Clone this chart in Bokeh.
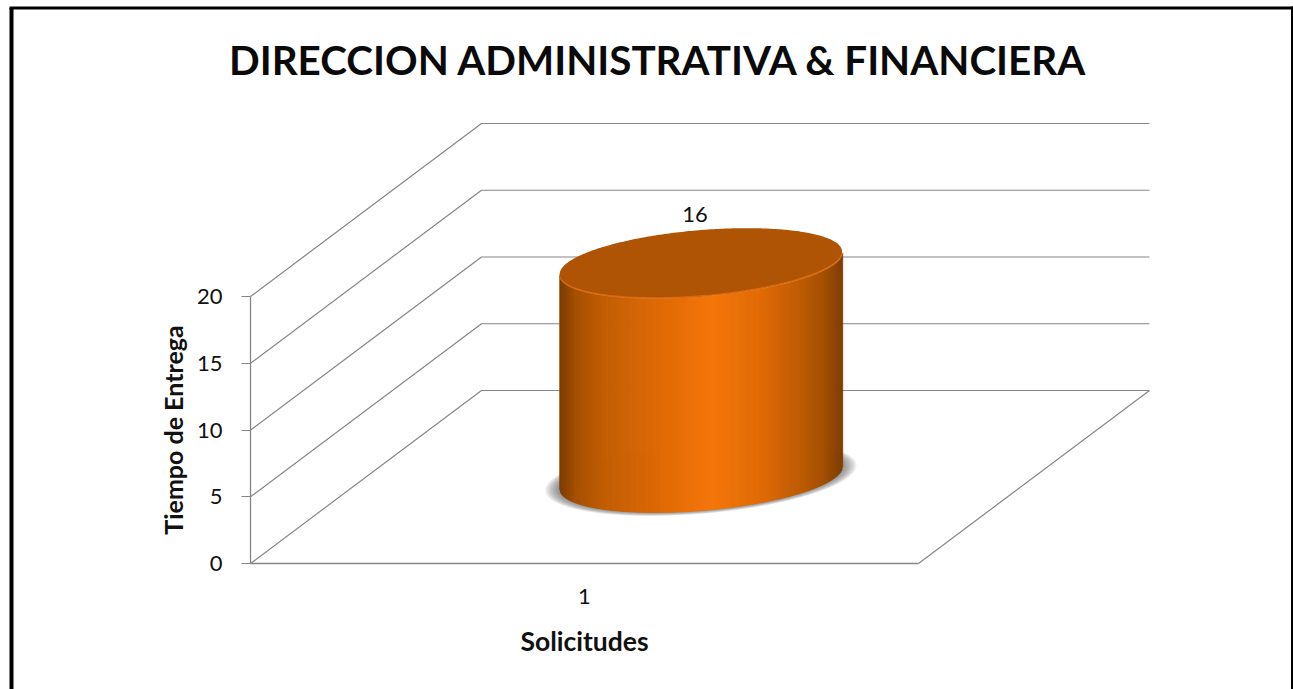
import numpy as np
from bokeh.plotting import figure
from bokeh.models import Label, FixedTicker
from bokeh.core.properties import value
from bokeh.embed import file_html
from bokeh.resources import INLINE

TITLE = "DIRECCION ADMINISTRATIVA & FINANCIERA"
categories = ["1"]
values = [16]
y_ticks = [0, 5, 10, 15, 20]
x_title = "Solicitudes"
y_title = "Tiempo de Entrega"

FONT = "Lato"
GREY = "#868686"
# screen calibration of the projected chart box
PX_X0, PX_UNIT_X = 250.0, 668.0
PX_Y0, PX_UNIT_Y = 563.0, 13.35
DEPTH_X = 231 / PX_UNIT_X
DEPTH_Y = 173 / PX_UNIT_Y
BAR_RADIUS = 0.2

W, H = 1293, 689
LEFT, TOP = 0, 0
to_x = lambda px: (px - PX_X0) / PX_UNIT_X
to_y = lambda py: (PX_Y0 - py) / PX_UNIT_Y

def proj(x, v, d):
    return x + np.asarray(d) * DEPTH_X, v + np.asarray(d) * DEPTH_Y

p = figure(width=W, height=H, output_backend="svg", toolbar_location=None,
           x_range=(to_x(LEFT), to_x(LEFT + W)), y_range=(to_y(TOP + H), to_y(TOP)),
           min_border=0, min_border_left=0, min_border_right=0,
           min_border_top=0, min_border_bottom=0, outline_line_color=None)
p.grid.visible = False

# axes
yax = p.yaxis[0]
yax.fixed_location = 0
yax.bounds = (min(y_ticks), max(y_ticks))
yax.ticker = FixedTicker(ticks=y_ticks)
yax.major_tick_out = 9
yax.major_tick_in = 0
yax.minor_tick_out = 0
yax.minor_tick_in = 0
yax.axis_line_color = GREY
yax.axis_line_width = 1.3
yax.major_tick_line_color = GREY
yax.major_label_text_font = FONT
yax.major_label_text_font_size = "22px"
yax.major_label_text_color = "#111111"
yax.major_label_standoff = 19
yax.axis_label = y_title
yax.axis_label_text_font = FONT
yax.axis_label_text_font_style = "bold"
yax.axis_label_text_font_size = "25px"
yax.axis_label_text_color = "#111111"
yax.axis_label_standoff = 6

xax = p.xaxis[0]
xax.fixed_location = 0
xax.bounds = (0, 1)
xax.ticker = FixedTicker(ticks=[0.5])
xax.major_label_overrides = {0.5: categories[0]}
xax.major_tick_out = 0
xax.major_tick_in = 0
xax.minor_tick_out = 0
xax.minor_tick_in = 0
xax.axis_line_color = GREY
xax.axis_line_width = 1.3
xax.major_label_text_font = FONT
xax.major_label_text_font_size = "22px"
xax.major_label_text_color = "#111111"
xax.major_label_standoff = 25
xax.axis_label = x_title
xax.axis_label_text_font = FONT
xax.axis_label_text_font_style = "bold"
xax.axis_label_text_font_size = "26.5px"
xax.axis_label_text_color = "#111111"
xax.axis_label_standoff = 18

# walls and floor
xs, ys = [], []
for v in y_ticks:
    px_, py_ = proj(np.array([0, 0, 1.0]), np.array([v, v, v], float), [0, 1, 1])
    xs.append(list(px_)); ys.append(list(py_))
px_, py_ = proj(np.array([1.0, 1.0]), np.array([0.0, 0.0]), [0, 1])
xs.append(list(px_)); ys.append(list(py_))
p.multi_line(xs, ys, line_color=GREY, line_width=1.2)

# cylinder geometry
t = np.linspace(0, 2 * np.pi, 361)
def ellipse(v, scale=1.0, xc=0.503, dc=0.495):
    r = BAR_RADIUS * scale
    return proj(xc + r * np.cos(t), np.full_like(t, float(v)), dc + r * np.sin(t))

# soft floor shadow
for s in np.linspace(1.10, 1.01, 8):
    sx, sy = ellipse(0, s)
    p.patch(sx, sy, fill_color="#4a4a4a", fill_alpha=0.10, line_color=None)

# cylinder side, shaded in narrow vertical strips
stops = [0.0, 0.06, 0.15, 0.35, 0.54, 0.72, 0.85, 0.93, 1.0]
stop_rgb = np.array([[0x7f, 0x3e, 0x03], [0xa8, 0x52, 0x04], [0xc2, 0x5e, 0x05],
                     [0xdf, 0x6a, 0x07], [0xf5, 0x78, 0x0d], [0xe0, 0x6b, 0x08],
                     [0xbf, 0x5e, 0x08], [0xa8, 0x52, 0x04], [0x7f, 0x3e, 0x03]], float)
for cat, val in zip(categories, values):
    bx, by = ellipse(0)
    tx, ty = ellipse(val)
    i_r, i_l = int(np.argmax(bx)), int(np.argmin(bx))
    # lower (front) arc of the base ellipse, ordered left to right
    idx = np.r_[i_l:361, 0:i_r + 1] if i_l > i_r else np.arange(i_l, i_r + 1)
    fx, fy = bx[idx], by[idx]
    order = np.argsort(fx)
    fx, fy = fx[order], fy[order]
    edges = np.linspace(fx[0], fx[-1], 285)
    lo = np.interp(edges, fx, fy)
    hi = lo + val
    sxs, sys, cols = [], [], []
    for k in range(len(edges) - 1):
        m = (k + 0.5) / (len(edges) - 1)
        rgb = [int(np.interp(m, stops, stop_rgb[:, c])) for c in range(3)]
        e = edges[k + 1] + 0.001
        sxs.append([edges[k], e, e, edges[k]])
        sys.append([lo[k], lo[k + 1], hi[k + 1], hi[k]])
        cols.append("#%02x%02x%02x" % tuple(rgb))
    p.patches(sxs, sys, fill_color=cols, line_color=cols, line_width=0.4)
    # top cap with lighter rim on the front edge
    p.patch(tx, ty, fill_color="#d96a0d", line_color=None)
    cx, cy = ellipse(val + 0.12, 0.998)
    p.patch(cx, cy, fill_color="#af5305", line_color=None)
    # value label
    lx, ly = proj(0.5, val, 0.5)
    p.text([float(lx)], [float(ly)], text=[str(val)], text_font=value(FONT),
           text_font_size="22px", text_color="#111111", text_align="center",
           text_baseline="middle", x_offset=-5, y_offset=-49)

# title
p.add_layout(Label(x=to_x(658), y=to_y(59), text=TITLE, text_font=FONT,
                   text_font_style="bold", text_font_size="40.4px", text_color="#0a0a0a",
                   text_align="center", text_baseline="middle"))

# picture frame (no bottom edge)
p.line([to_x(11), to_x(11)], [to_y(689), to_y(7.5)], line_color="#000000", line_width=4)
p.line([to_x(9), to_x(1293)], [to_y(7.5), to_y(7.5)], line_color="#000000", line_width=3)
p.line([to_x(1292), to_x(1292)], [to_y(6), to_y(689)], line_color="#000000", line_width=3)

open("out.html", "w").write(file_html(p, INLINE))
